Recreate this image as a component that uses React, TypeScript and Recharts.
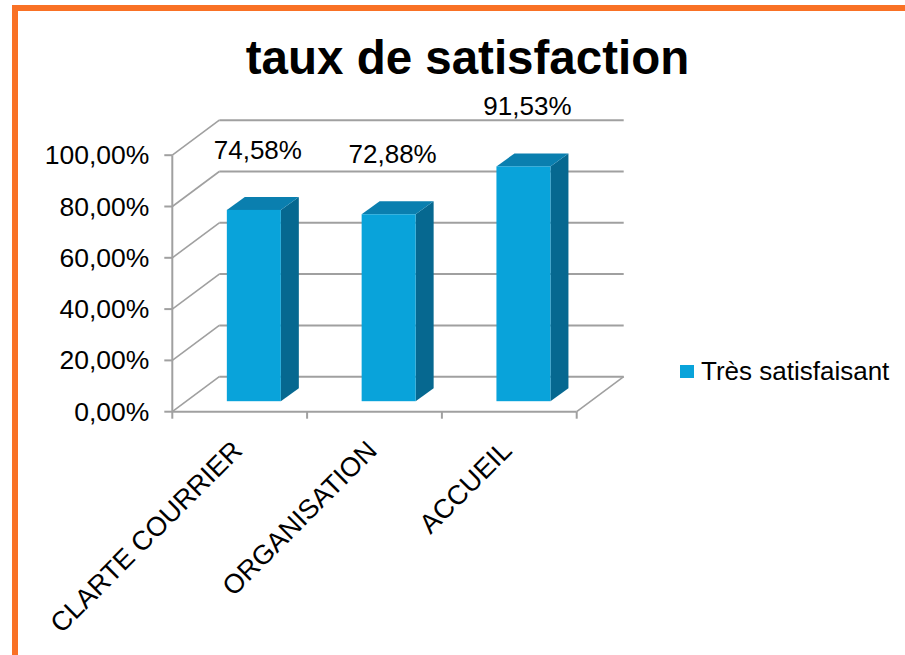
import React from 'react';
import { BarChart, Bar, XAxis, YAxis, CartesianGrid, Legend, LabelList } from 'recharts';

const categories = ['CLARTE COURRIER', 'ORGANISATION', 'ACCUEIL'];
const tresSatisfaisant = [0.7458, 0.7288, 0.9153];
const yTicks = [0, 0.2, 0.4, 0.6, 0.8, 1];
const seriesName = 'Très satisfaisant';
const title = 'taux de satisfaction';

const data = categories.map((name, i) => ({ name, value: tresSatisfaisant[i] }));

const W = 905;
const H = 655;
const PLOT_LEFT = 186.4;
const PLOT_TOP = 144.7;
const PLOT_RIGHT = 590.8;
const PLOT_BOTTOM = 401.2;
const YAXIS_W = 60;
const XAXIS_H = 30;

// 3D depth offsets relative to the bar plane
const FX = -14.1, FY = 10.5; // front plane
const BX = 32.9, BY = -24.5; // back wall
const DX = 18, DY = -13; // bar depth

const FONT = '"Liberation Sans", Arial, sans-serif';
const GRID = '#A0A0A0';
const FRONT = '#09A3DA';
const TOP = '#0A7FAF';
const SIDE = '#066890';

const fmt = (v: number) => (v * 100).toFixed(2).replace('.', ',') + '%';

const Bar3D = (p: any) => {
  const { x, y, width, height } = p;
  if (width == null || height == null) return null;
  return (
    <g>
      <polygon
        points={`${x + width},${y} ${x + width + DX},${y + DY} ${x + width + DX},${y + height + DY} ${x + width},${y + height}`}
        fill={SIDE}
      />
      <polygon
        points={`${x},${y} ${x + DX},${y + DY} ${x + width + DX},${y + DY} ${x + width},${y}`}
        fill={TOP}
      />
      <rect x={x} y={y} width={width} height={height} fill={FRONT} />
    </g>
  );
};

const renderH = (p: any) => {
  const { x1, y1, x2, index } = p;
  const isFloor = Math.abs(y1 - PLOT_BOTTOM) < 1;
  const n = categories.length;
  const fl = x1 + FX;
  const fr = x2 + FX;
  const step = (fr - fl) / n;
  return (
    <g key={`h-${index}`}>
      <line x1={x1 + BX} y1={y1 + BY} x2={x2 + BX} y2={y1 + BY} stroke={GRID} strokeWidth={2} />
      <line x1={x1 + FX} y1={y1 + FY} x2={x1 + BX} y2={y1 + BY} stroke={GRID} strokeWidth={1.6} />
      {isFloor && (
        <g>
          <line x1={fl} y1={y1 + FY} x2={fr} y2={y1 + FY} stroke={GRID} strokeWidth={2} />
          <line x1={fr} y1={y1 + FY} x2={x2 + BX} y2={y1 + BY} stroke={GRID} strokeWidth={1.6} />
          {Array.from({ length: n + 1 }).map((_, i) => (
            <line key={i} x1={fl + i * step} y1={y1 + FY} x2={fl + i * step} y2={y1 + FY + 7} stroke={GRID} strokeWidth={2} />
          ))}
        </g>
      )}
    </g>
  );
};

const YTick = (p: any) => {
  const { x, y, payload } = p;
  const ax = x + FX;
  const ay = y + FY;
  return (
    <g>
      <line x1={ax - 8} y1={ay} x2={ax} y2={ay} stroke={GRID} strokeWidth={2} />
      <text x={ax - 23} y={ay + 9} textAnchor="end" fontSize={26.5} fontFamily={FONT} fill="#000">
        {fmt(payload.value)}
      </text>
    </g>
  );
};

const XTick = (p: any) => {
  const { x, y, payload } = p;
  const ax = x + FX + 4;
  const ay = y + 51;
  return (
    <text
      x={ax}
      y={ay}
      transform={`rotate(-45 ${ax} ${ay})`}
      textAnchor="end"
      fontSize={27}
      fontFamily={FONT}
      fill="#000"
    >
      {payload.value}
    </text>
  );
};

const ValueLabel = (p: any) => {
  const { x, y, width, value } = p;
  return (
    <text x={x + width / 2 + 4} y={y - 60 + 9} textAnchor="middle" fontSize={26} fontFamily={FONT} fill="#000">
      {fmt(value)}
    </text>
  );
};

const LegendContent = () => (
  <div style={{ display: 'flex', alignItems: 'center', fontFamily: FONT, fontSize: 26, color: '#000', whiteSpace: 'nowrap' }}>
    <span style={{ display: 'inline-block', width: 14, height: 13, background: FRONT, marginRight: 7 }} />
    <span>{seriesName}</span>
  </div>
);

export default function App() {
  return (
    <div style={{ position: 'absolute', left: 0, top: 0, width: W, height: H, overflow: 'hidden', background: '#fff' }}>
      <div
        style={{
          position: 'absolute',
          left: 12,
          top: 5,
          width: 1000,
          height: 1000,
          border: '6px solid #F97125',
          boxSizing: 'border-box',
        }}
      />
      <div
        style={{
          position: 'absolute',
          left: 0,
          top: 34,
          width: 935,
          textAlign: 'center',
          fontFamily: FONT,
          fontWeight: 'bold',
          fontSize: 47.5,
          lineHeight: '47.5px',
          color: '#000',
        }}
      >
        {title}
      </div>
      <div style={{ position: 'absolute', left: 0, top: 0 }}>
        <BarChart
          width={W}
          height={H}
          data={data}
          barCategoryGap="30%"
          margin={{
            top: PLOT_TOP,
            left: PLOT_LEFT - YAXIS_W,
            right: W - PLOT_RIGHT,
            bottom: H - PLOT_BOTTOM - XAXIS_H,
          }}
        >
          <CartesianGrid vertical={false} horizontal={renderH} />
          <XAxis
            dataKey="name"
            height={XAXIS_H}
            tickLine={false}
            axisLine={false}
            tickSize={0}
            tickMargin={0}
            interval={0}
            tick={XTick}
          />
          <YAxis
            type="number"
            domain={[0, 1]}
            ticks={yTicks}
            interval={0}
            width={YAXIS_W}
            tickLine={false}
            tickSize={0}
            tickMargin={0}
            axisLine={{ stroke: GRID, strokeWidth: 2, transform: `translate(${FX} ${FY})` }}
            tick={YTick}
          />
          <Legend
            layout="horizontal"
            verticalAlign="middle"
            align="center"
            content={LegendContent}
            wrapperStyle={{ left: 680, top: 356, width: 225, height: 34 }}
          />
          <Bar dataKey="value" name={seriesName} shape={Bar3D} isAnimationActive={false}>
            <LabelList dataKey="value" content={ValueLabel} />
          </Bar>
        </BarChart>
      </div>
    </div>
  );
}
